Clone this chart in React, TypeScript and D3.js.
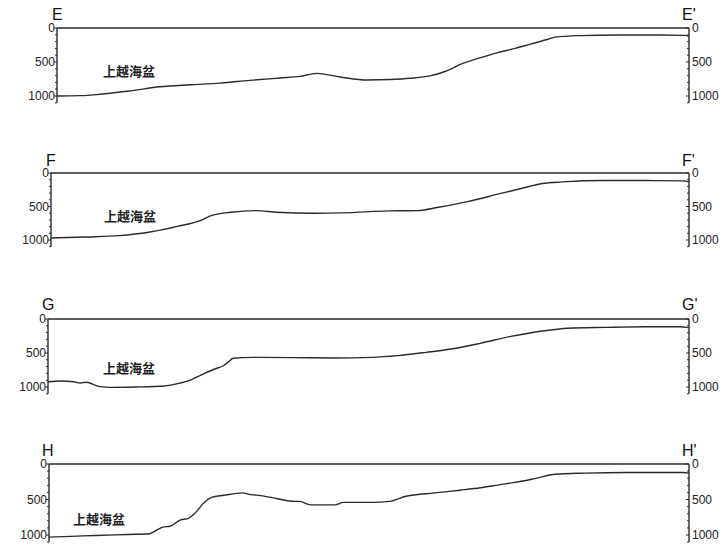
import React from "react";
import * as d3 from "d3";

// distance along profile (% of section length) and depth (m)
const eDist = [0, 3.6, 6.8, 11.6, 16.3, 21, 25.8, 30.5, 35.3, 38.4, 41.1, 44.8, 49.1, 52.7, 55.9, 59, 61.4, 64.2, 66.9, 69.6, 72.5, 74.8, 77.7, 78.8, 82.7, 89.1, 95.4, 99.4, 100];
const eDepth = [1000, 995, 975, 925, 865, 835, 810, 770, 735, 712, 667, 720, 765, 758, 740, 705, 640, 520, 440, 365, 300, 240, 165, 135, 112, 102, 102, 108, 122];

const fDist = [0, 5.5, 10.7, 15.3, 19.8, 23.7, 25, 28.2, 32.1, 35.4, 41.2, 45.8, 52.9, 57.5, 60.7, 65.3, 70.5, 73.7, 77, 80.2, 86.7, 93.2, 99, 100];
const fDepth = [970, 955, 935, 885, 797, 699, 640, 585, 561, 585, 600, 595, 566, 561, 512, 428, 305, 231, 157, 133, 113, 113, 118, 133];

const gDist = [0, 2.1, 4, 5, 6, 7.9, 10, 13.7, 18.2, 20.2, 22.1, 24.1, 26, 27.3, 28, 28.9, 31.9, 38.3, 44.8, 50.6, 54.5, 59, 62.9, 67.4, 72, 77.2, 81.1, 86.9, 93.3, 98.5, 100];
const gDepth = [922, 912, 922, 941, 931, 990, 1005, 1000, 985, 951, 902, 814, 735, 691, 642, 578, 564, 568, 573, 564, 539, 490, 441, 358, 260, 176, 137, 123, 113, 113, 127];

const hDist = [0, 3.4, 7.3, 12.4, 15.7, 16.3, 17.9, 18.9, 20.5, 21.8, 22.8, 24.4, 25.4, 27.3, 30.2, 31.5, 33.1, 35.7, 38.3, 39.2, 40.8, 44.7, 46, 50.6, 53.2, 55.8, 60.3, 64.2, 67.4, 70.7, 72.6, 75.9, 79.1, 83.7, 90.2, 99, 100];
const hDepth = [1030, 1020, 1006, 992, 982, 958, 886, 877, 790, 766, 695, 527, 469, 441, 407, 431, 445, 489, 527, 527, 575, 575, 541, 541, 527, 455, 407, 369, 335, 287, 263, 206, 144, 129, 120, 120, 129];

const sectionStart = ["E", "F", "G", "H"];
const sectionEnd = ["E'", "F'", "G'", "H'"];
const basinLabel = "上越海盆";
const depthTicks = [0, 500, 1000];

const profiles = [
  { dist: eDist, depth: eDepth },
  { dist: fDist, depth: fDepth },
  { dist: gDist, depth: gDepth },
  { dist: hDist, depth: hDepth },
];

const layout = [
  { left: 57, right: 689, y0: 28, y1000: 96, labelX: 103, labelY: 76, letterX: 52, letterY: 20 },
  { left: 51, right: 689, y0: 173, y1000: 240, labelX: 104, labelY: 221, letterX: 46, letterY: 166 },
  { left: 48, right: 689, y0: 319, y1000: 387, labelX: 103, labelY: 373, letterX: 42, letterY: 310 },
  { left: 49, right: 689, y0: 464, y1000: 535, labelX: 73, labelY: 524, letterX: 42, letterY: 456 },
];

const ink = "#2a2a2a";
const latin = "'Liberation Sans', Arial, sans-serif";

function Panel({ i }: { i: number }) {
  const L = layout[i];
  const P = profiles[i];
  const x = d3.scaleLinear().domain([0, 100]).range([L.left, L.right]);
  const y = d3.scaleLinear().domain([0, 1000]).range([L.y0, L.y1000]);
  const pts: [number, number][] = P.dist.map((d, k) => [d, P.depth[k]]);
  const line = d3
    .line<[number, number]>()
    .x((d) => x(d[0]))
    .y((d) => y(d[1]))
    .curve(d3.curveMonotoneX);
  const minor = d3.range(0, 1101, 100);
  const axisBottom = y(1100);
  return (
    <g>
      <line x1={x(0)} x2={x(100)} y1={y(0)} y2={y(0)} stroke={ink} strokeWidth={1.4} />
      <line x1={x(0)} x2={x(0)} y1={y(0)} y2={axisBottom} stroke={ink} strokeWidth={1.4} />
      {minor.map((t) => (
        <line key={"l" + t} x1={x(0) - (t % 500 === 0 ? 3 : 2)} x2={x(0)} y1={y(t)} y2={y(t)} stroke={ink} strokeWidth={1} />
      ))}
      <line x1={x(100)} x2={x(100)} y1={y(0)} y2={axisBottom} stroke={ink} strokeWidth={1.4} />
      {minor.map((t) => (
        <line key={"r" + t} x1={x(100) - (t % 500 === 0 ? 3 : 2)} x2={x(100)} y1={y(t)} y2={y(t)} stroke={ink} strokeWidth={1} />
      ))}
      {depthTicks.map((t) => (
        <text key={"tl" + t} x={x(0) - 2} y={y(t)} dy="0.35em" textAnchor="end" fontFamily={latin} fontSize={12} fill="#222">
          {t}
        </text>
      ))}
      {depthTicks.map((t) => (
        <text key={"tr" + t} x={x(100) + 3} y={y(t)} dy="0.35em" textAnchor="start" fontFamily={latin} fontSize={12} fill="#222">
          {t}
        </text>
      ))}
      <text x={L.letterX} y={L.letterY} fontFamily={latin} fontSize={16} fill="#111">
        {sectionStart[i]}
      </text>
      <text x={x(100) - 7} y={L.letterY} fontFamily={latin} fontSize={16} fill="#111">
        {sectionEnd[i]}
      </text>
      <text x={L.labelX} y={L.labelY} fontFamily="'Noto Sans CJK SC', sans-serif" fontWeight="bold" fontSize={13} fill="#222">
        {basinLabel}
      </text>
      <path d={line(pts) || ""} fill="none" stroke={ink} strokeWidth={1.4} strokeLinejoin="round" />
    </g>
  );
}

export default function App() {
  return (
    <svg width={726} height={546} style={{ position: "absolute", left: 0, top: 0, background: "#fff" }}>
      <rect width={726} height={546} fill="#fff" />
      {profiles.map((_, i) => (
        <Panel key={i} i={i} />
      ))}
    </svg>
  );
}
